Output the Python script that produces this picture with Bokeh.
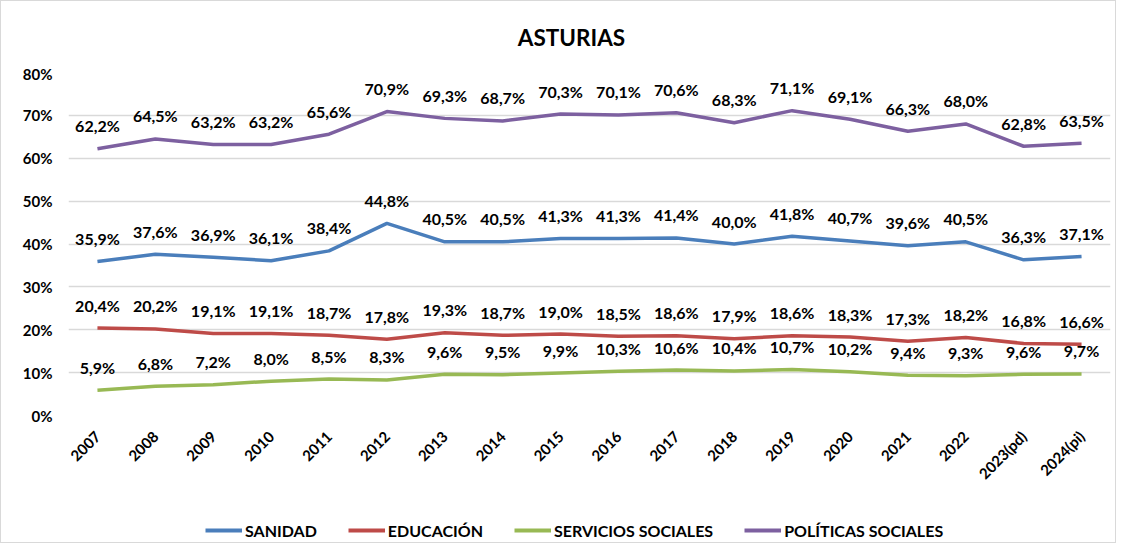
import math
from bokeh.plotting import figure
from bokeh.layouts import column
from bokeh.models import (FactorRange, Range1d, FixedTicker, PrintfTickFormatter, ColumnDataSource,
                          Legend, Label)
from bokeh.core.properties import value
from bokeh.embed import file_html
from bokeh.resources import INLINE

categories = ["2007", "2008", "2009", "2010", "2011", "2012", "2013", "2014", "2015", "2016",
              "2017", "2018", "2019", "2020", "2021", "2022", "2023(pd)", "2024(pi)"]
sanidad = [35.9, 37.6, 36.9, 36.1, 38.4, 44.8, 40.5, 40.5, 41.3, 41.3, 41.4, 40.0, 41.8, 40.7, 39.6, 40.5, 36.3, 37.1]
educacion = [20.4, 20.2, 19.1, 19.1, 18.7, 17.8, 19.3, 18.7, 19.0, 18.5, 18.6, 17.9, 18.6, 18.3, 17.3, 18.2, 16.8, 16.6]
servicios = [5.9, 6.8, 7.2, 8.0, 8.5, 8.3, 9.6, 9.5, 9.9, 10.3, 10.6, 10.4, 10.7, 10.2, 9.4, 9.3, 9.6, 9.7]
politicas = [62.2, 64.5, 63.2, 63.2, 65.6, 70.9, 69.3, 68.7, 70.3, 70.1, 70.6, 68.3, 71.1, 69.1, 66.3, 68.0, 62.8, 63.5]
y_ticks = [0, 10, 20, 30, 40, 50, 60, 70, 80]
title_text = "ASTURIAS"

series = [
    ("SANIDAD", sanidad, "#4A7EBB"),
    ("EDUCACIÓN", educacion, "#BE4B48"),
    ("SERVICIOS SOCIALES", servicios, "#98B954"),
    ("POLÍTICAS SOCIALES", politicas, "#7D60A0"),
]

FONT = "Lato"
W = 1114
ML, MR = 67, 5
FW = W - ML - MR  # frame width shared by all stacked figures


def blank(height):
    f = figure(width=W, height=height, x_range=Range1d(0, FW), y_range=Range1d(0, height),
               output_backend="svg", toolbar_location=None,
               min_border_left=ML, min_border_right=MR, min_border_top=0, min_border_bottom=0,
               x_axis_location=None, y_axis_location=None)
    f.grid.visible = False
    f.outline_line_color = None
    f.background_fill_color = "white"
    f.border_fill_color = "white"
    return f


# ---- title strip
tf = blank(63)
tf.add_layout(Label(x=503, y=27, text=title_text, text_align="center", text_baseline="middle",
                    text_font=FONT, text_font_size="22.5px", text_font_style="bold",
                    text_color="black"))

# ---- main chart
p = figure(width=W, height=432, x_range=FactorRange(*categories), y_range=Range1d(0, 80),
           output_backend="svg", toolbar_location=None,
           min_border_left=ML, min_border_right=MR, min_border_top=8, min_border_bottom=81)
p.outline_line_color = None
p.background_fill_color = "white"
p.border_fill_color = "white"

p.yaxis.ticker = FixedTicker(ticks=y_ticks)
p.yaxis.formatter = PrintfTickFormatter(format="%d%%")
for ax in (p.xaxis[0], p.yaxis[0]):
    ax.axis_line_color = None
    ax.major_tick_line_color = None
    ax.minor_tick_line_color = None
    ax.major_label_text_font = FONT
    ax.major_label_text_font_style = "bold"
    ax.major_label_text_color = "black"
p.yaxis.major_label_text_font_size = "15px"
p.xaxis.major_label_text_font_size = "15px"
p.yaxis.major_label_standoff = 10
p.xaxis.major_label_orientation = math.pi / 4
p.xaxis.major_label_standoff = 12

p.xgrid.grid_line_color = None
p.ygrid.grid_line_color = "#d9d9d9"
p.ygrid.grid_line_width = 1.5
p.ygrid.ticker = FixedTicker(ticks=y_ticks)

for name, vals, color in series:
    src = ColumnDataSource(dict(x=categories, y=vals,
                                lab=[("%.1f%%" % v).replace(".", ",") for v in vals]))
    p.line("x", "y", source=src, line_color=color, line_width=3.5)
    p.text("x", "y", text="lab", source=src, text_align="center", text_baseline="middle",
           y_offset=-23, text_font=value(FONT), text_font_size="16px", text_font_style="bold",
           text_color="black")

# ---- legend strip (legend entries use line renderers without visible data)
lf = blank(46)
items = []
for name, vals, color in series:
    r = lf.line(x=[float("nan")], y=[float("nan")], line_color=color, line_width=4)
    items.append((name, [r]))
legend = Legend(items=items, orientation="horizontal", location=(137, 2),
                glyph_width=37, glyph_height=20, label_standoff=3, spacing=31,
                padding=0, margin=0, border_line_color=None, background_fill_alpha=0,
                label_text_font=FONT, label_text_font_size="16px", label_text_font_style="bold",
                label_text_color="black")
lf.add_layout(legend, "center")

layout = column(tf, p, lf, spacing=0)
layout.styles = {"border": "1px solid #d9d9d9"}

open("out.html", "w").write(file_html(layout, INLINE))
